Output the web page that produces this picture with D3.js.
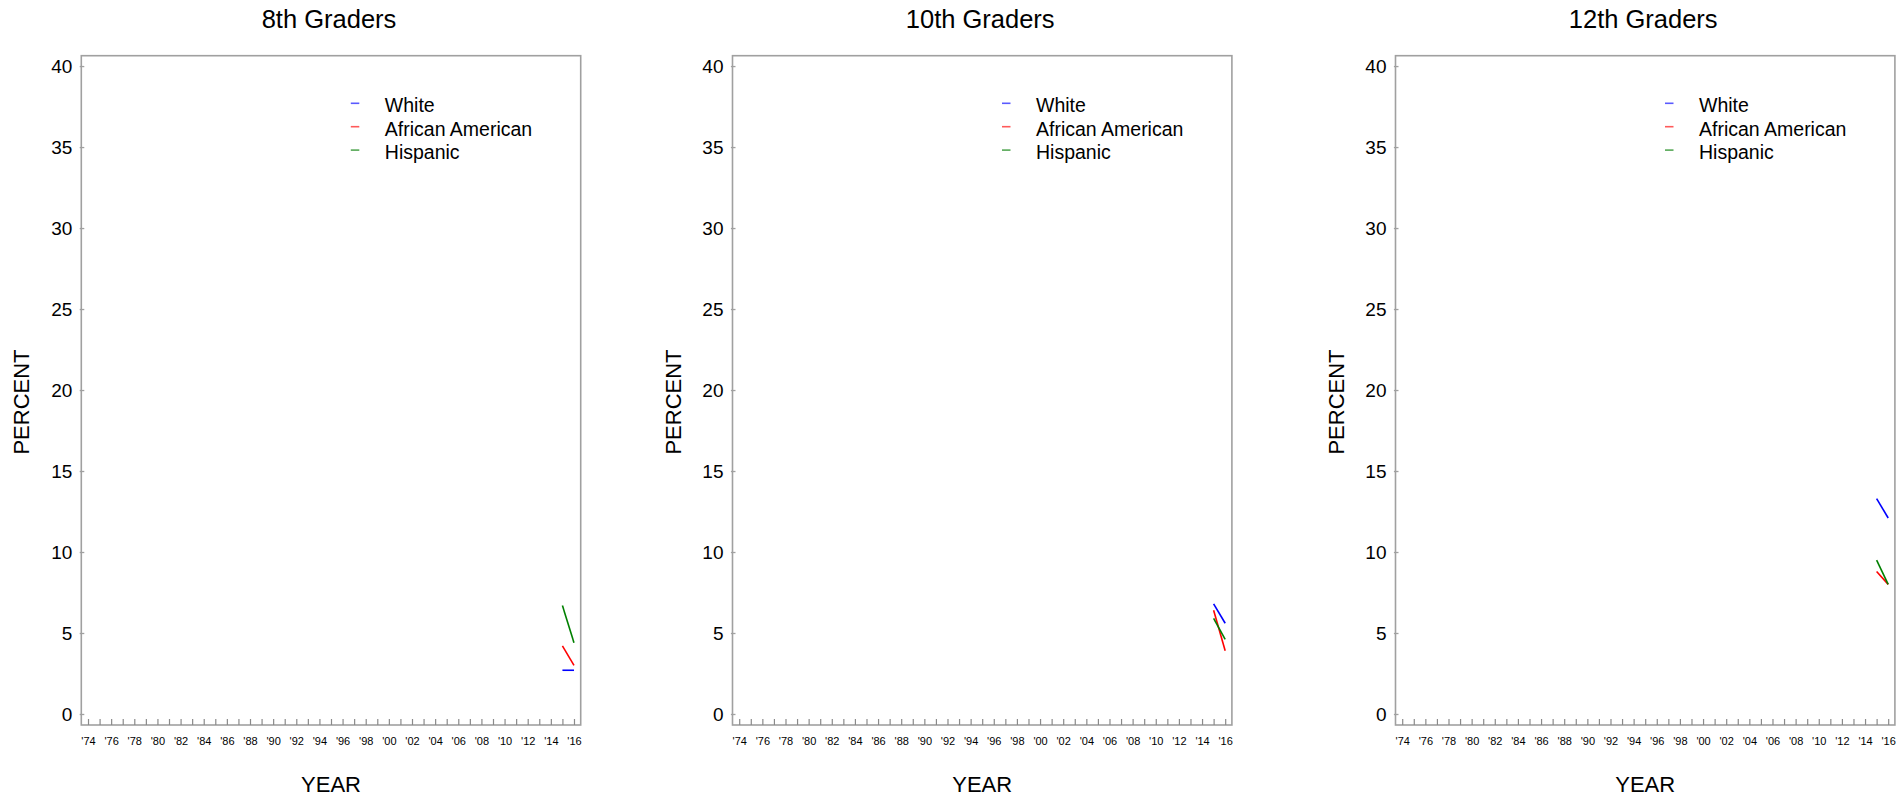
<!DOCTYPE html>
<html>
<head>
<meta charset="utf-8">
<script src="https://cdn.jsdelivr.net/npm/d3@7"></script>
<style>
  html, body { margin: 0; padding: 0; background: #fff; }
  svg { display: block; font-family: "Liberation Sans", Arial, sans-serif; }
</style>
</head>
<body>
<svg id="chart" width="1898" height="796"></svg>
<script>
// ---- data ----
const grades = ["8th Graders", "10th Graders", "12th Graders"];
const seriesNames = ["White", "African American", "Hispanic"];
const years = [2015, 2016];
const white8 = [2.7, 2.7];
const africanAmerican8 = [4.2, 3.0];
const hispanic8 = [6.7, 4.4];
const white10 = [6.8, 5.6];
const africanAmerican10 = [6.4, 3.9];
const hispanic10 = [5.9, 4.6];
const white12 = [13.3, 12.1];
const africanAmerican12 = [8.8, 8.0];
const hispanic12 = [9.5, 8.0];
const yTicks = [0, 5, 10, 15, 20, 25, 30, 35, 40];
const xTickYears = d3.range(1974, 2017);
const xLabelYears = d3.range(1974, 2017, 2);
const xTickLabels = xLabelYears.map(y => "'" + String(y).slice(2));

const panelData = [
  [white8, africanAmerican8, hispanic8],
  [white10, africanAmerican10, hispanic10],
  [white12, africanAmerican12, hispanic12]
];
const lineColors = ["#0000ff", "#ff0000", "#008000"];
const legendColors = ["#5a5aff", "#ff5a5a", "#55a855"];

// ---- layout ----
const panelLefts = [81.3, 732.5, 1395.5];
const panelW = 499.4;
const plotTop = 55.7, plotBottom = 725;
const axisColor = "#a0a0a0";

const svg = d3.select("#chart");

grades.forEach((g, i) => {
  const left = panelLefts[i];
  const x = d3.scaleLinear().domain([1973.42, 2016.58]).range([left, left + panelW]);
  const y = d3.scaleLinear().domain([-0.68, 40.64]).range([plotBottom, plotTop]);
  const gp = svg.append("g");

  // frame
  gp.append("rect")
    .attr("x", left).attr("y", plotTop)
    .attr("width", panelW).attr("height", plotBottom - plotTop)
    .attr("fill", "none").attr("stroke", axisColor).attr("stroke-width", 1.6);

  // y axis ticks + labels
  const yAxis = d3.axisLeft(y).tickValues(yTicks).tickSize(-3).tickPadding(9).tickFormat(d3.format("d"));
  const ya = gp.append("g").attr("transform", `translate(${left},0)`).call(yAxis);
  ya.select(".domain").remove();
  ya.selectAll(".tick line").attr("stroke", axisColor).attr("stroke-width", 1.3).attr("x1", -1.6);
  ya.selectAll(".tick text").attr("fill", "#000").style("font-size", "19px");

  // x axis minor ticks (inside, upward)
  const xAxis = d3.axisBottom(x).tickValues(xTickYears).tickSize(-6).tickFormat("");
  const xa = gp.append("g").attr("transform", `translate(0,${plotBottom})`).call(xAxis);
  xa.select(".domain").remove();
  xa.selectAll(".tick line").attr("stroke", "#8a8a8a").attr("stroke-width", 1.2);

  // x tick labels
  const xLab = d3.axisBottom(x).tickValues(xLabelYears).tickSize(0).tickPadding(12)
    .tickFormat((d, k) => xTickLabels[k]);
  const xl = gp.append("g").attr("transform", `translate(0,${plotBottom})`).call(xLab);
  xl.select(".domain").remove();
  xl.selectAll(".tick text").attr("fill", "#000").style("font-size", "11px");

  // title
  gp.append("text").attr("x", left + panelW / 2 - 2).attr("y", 28)
    .attr("text-anchor", "middle").style("font-size", "25.5px").text(g);

  // axis titles
  gp.append("text").attr("x", left + panelW / 2).attr("y", 792)
    .attr("text-anchor", "middle").style("font-size", "22px").text("YEAR");
  gp.append("text")
    .attr("transform", `translate(${left - 52},${402}) rotate(-90)`)
    .attr("text-anchor", "middle").style("font-size", "22px").text("PERCENT");

  // lines
  const line = d3.line().x((d, k) => x(years[k])).y(d => y(d));
  panelData[i].forEach((vals, s) => {
    gp.append("path").datum(vals)
      .attr("d", line)
      .attr("fill", "none")
      .attr("stroke", lineColors[s])
      .attr("stroke-width", 1.6);
  });

  // legend
  const lx = left + 269.5, ly = 103.3, dy = 23.4;
  seriesNames.forEach((n, s) => {
    gp.append("line")
      .attr("x1", lx).attr("x2", lx + 8.5)
      .attr("y1", ly + s * dy).attr("y2", ly + s * dy)
      .attr("stroke", legendColors[s]).attr("stroke-width", 1.6);
    gp.append("text")
      .attr("x", lx + 34).attr("y", ly + s * dy + 9)
      .style("font-size", "19.5px").text(n);
  });
});
</script>
</body>
</html>
